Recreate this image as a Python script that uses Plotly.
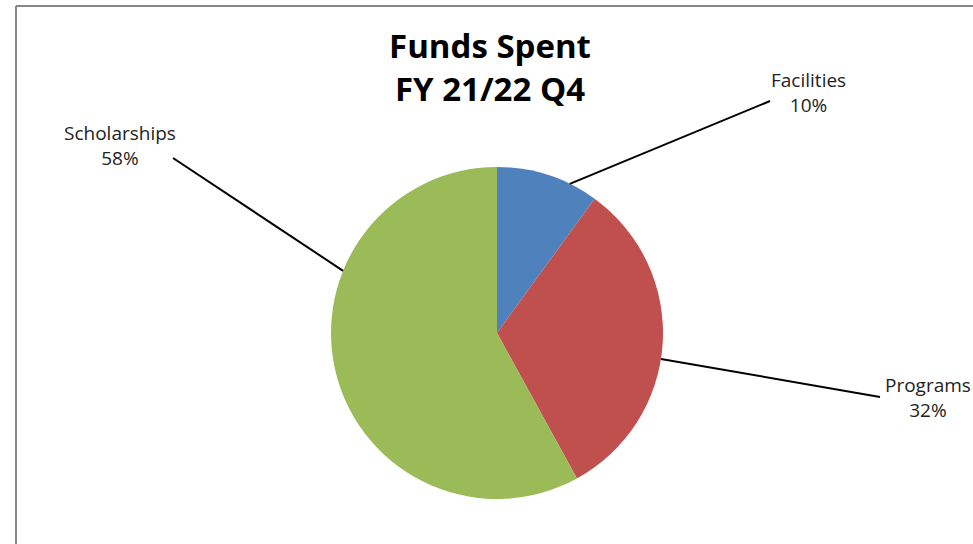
import math
import plotly.graph_objects as go

W, H = 973, 544

categories = ["Facilities", "Programs", "Scholarships"]
values = [10, 32, 58]
colors = ["#4F81BD", "#C0504D", "#9BBB59"]

# label placement (pixels) and where each leader meets the pie edge (deg from 12 o'clock)
label_pos = [(808, 92), (928, 397), (120, 145)]
line_end = [(770, 101), (880, 397), (173, 158)]
edge_angle = [26, 99, 292]

# pie box in pixels
cx, cy, r = 497, 333, 166
dom_x = [(cx - r) / W, (cx + r) / W]
dom_y = [(H - cy - r) / H, (H - cy + r) / H]

fig = go.Figure(
    go.Pie(
        labels=categories,
        values=values,
        marker=dict(colors=colors, line=dict(width=0)),
        sort=False,
        direction="clockwise",
        rotation=0,
        textinfo="none",
        hoverinfo="label+percent",
        domain=dict(x=dom_x, y=dom_y),
        showlegend=False,
    )
)

total = sum(values)
shapes = []
annotations = []
for name, val, (lx, ly), (ex, ey), ang in zip(categories, values, label_pos, line_end, edge_angle):
    a = math.radians(ang)
    sx = cx + r * math.sin(a)
    sy = cy - r * math.cos(a)
    shapes.append(dict(
        type="line", xref="paper", yref="paper",
        x0=sx / W, y0=1 - sy / H, x1=ex / W, y1=1 - ey / H,
        line=dict(color="black", width=2),
    ))
    annotations.append(dict(
        x=lx / W, y=1 - ly / H, xref="paper", yref="paper",
        text=f"{name}<br>{val / total:.0%}", showarrow=False,
        align="center", xanchor="center", yanchor="middle",
        font=dict(size=19, color="#222222"),
    ))

# chart-area border (left and top edges visible)
shapes.append(dict(type="line", xref="paper", yref="paper",
                   x0=16 / W, y0=0, x1=16 / W, y1=1 - 6 / H,
                   line=dict(color="#878787", width=2)))
shapes.append(dict(type="line", xref="paper", yref="paper",
                   x0=16 / W, y0=1 - 6 / H, x1=1, y1=1 - 6 / H,
                   line=dict(color="#878787", width=2)))

fig.update_layout(
    width=W,
    height=H,
    margin=dict(l=0, r=0, t=0, b=0),
    paper_bgcolor="white",
    plot_bgcolor="white",
    font=dict(family="Open Sans, sans-serif"),
    title=dict(
        text="<b>Funds Spent<br>FY 21/22 Q4</b>",
        x=490 / W, xanchor="center",
        y=1 - 58 / H, yanchor="middle", yref="container",
        font=dict(size=33, color="black"),
    ),
    shapes=shapes,
    annotations=annotations,
)

fig.write_html(
    "out.html",
    config={"displayModeBar": False},
    post_script="document.body.style.margin='0';",
)
